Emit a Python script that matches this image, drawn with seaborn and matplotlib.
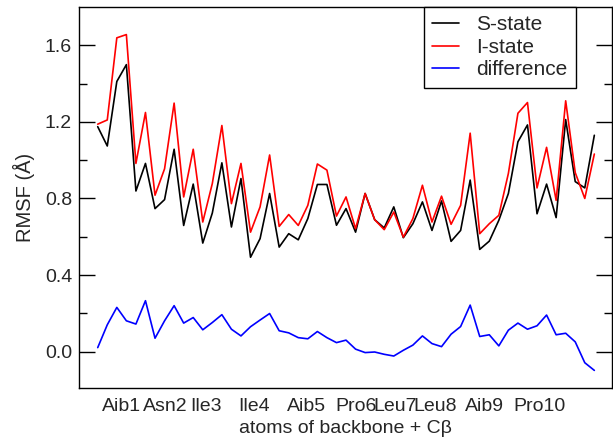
import numpy as np
import pandas as pd
import matplotlib
matplotlib.use("Agg")
import matplotlib.pyplot as plt
import seaborn as sns

# ---- data ----
s_state = [1.175, 1.074, 1.411, 1.499, 0.839, 0.983, 0.747, 0.794, 1.057, 0.659,
           0.875, 0.567, 0.724, 0.986, 0.651, 0.904, 0.493, 0.590, 0.826, 0.546,
           0.616, 0.584, 0.695, 0.873, 0.873, 0.660, 0.747, 0.624, 0.826, 0.689,
           0.646, 0.756, 0.595, 0.668, 0.782, 0.633, 0.787, 0.576, 0.633, 0.896,
           0.534, 0.577, 0.686, 0.826, 1.096, 1.184, 0.720, 0.875, 0.700, 1.212,
           0.888, 0.855, 1.130]
i_state = [1.188, 1.210, 1.639, 1.656, 0.983, 1.249, 0.817, 0.955, 1.298, 0.808,
           1.057, 0.677, 0.878, 1.181, 0.773, 0.983, 0.624, 0.756, 1.027, 0.654,
           0.716, 0.659, 0.764, 0.980, 0.948, 0.708, 0.808, 0.642, 0.826, 0.689,
           0.637, 0.729, 0.598, 0.695, 0.869, 0.677, 0.812, 0.665, 0.764, 1.141,
           0.616, 0.668, 0.712, 0.931, 1.245, 1.301, 0.855, 1.067, 0.790, 1.310,
           0.935, 0.800, 1.032]
difference = [0.021, 0.140, 0.231, 0.161, 0.144, 0.266, 0.070, 0.161, 0.240, 0.149,
              0.178, 0.114, 0.152, 0.193, 0.117, 0.082, 0.130, 0.165, 0.199, 0.109,
              0.098, 0.073, 0.067, 0.105, 0.073, 0.047, 0.060, 0.013, -0.005, -0.002,
              -0.014, -0.023, 0.007, 0.034, 0.082, 0.042, 0.026, 0.091, 0.131, 0.243,
              0.079, 0.088, 0.030, 0.112, 0.149, 0.117, 0.135, 0.191, 0.088, 0.096,
              0.051, -0.058, -0.098]
residues = ["Aib1", "Asn2", "Ile3", "Ile4", "Aib5", "Pro6", "Leu7", "Leu8", "Aib9", "Pro10"]
series_names = ["S-state", "I-state", "difference"]

atoms = np.arange(1, len(s_state) + 1)

df = pd.concat([
    pd.DataFrame({"atom": atoms, "rmsf": s_state, "series": series_names[0]}),
    pd.DataFrame({"atom": atoms, "rmsf": i_state, "series": series_names[1]}),
    pd.DataFrame({"atom": atoms, "rmsf": difference, "series": series_names[2]}),
], ignore_index=True)

sns.set_style("ticks")
plt.rcParams["font.family"] = ["Liberation Sans", "DejaVu Sans"]

fig = plt.figure(figsize=(6.13, 4.44), dpi=100)
ax = fig.add_axes([79 / 613, 1 - 388 / 444, (612 - 79) / 613, (388 - 7) / 444])

sns.lineplot(data=df, x="atom", y="rmsf", hue="series", hue_order=series_names,
             palette=["#000000", "#ff0000", "#0000ff"], linewidth=1.2, ax=ax,
             sort=False, estimator=None)

ax.set_xlim(-0.96, 54.85)
ax.set_ylim(-0.19, 1.80)

# residue label positions (atom-index centres of each residue)
res_pos = [3.5, 8.1, 12.3, 17.4, 22.9, 28.0, 32.1, 36.3, 41.5, 47.3]
ax.set_xticks(res_pos)
ax.set_xticklabels(residues, fontsize=14)
ax.tick_params(axis="x", length=0, pad=7.5)

ax.set_yticks([0.0, 0.4, 0.8, 1.2, 1.6])
ax.set_yticklabels(["0.0", "0.4", "0.8", "1.2", "1.6"], fontsize=14)
ax.set_yticks([0.2, 0.6, 1.0, 1.4], minor=True)
ax.tick_params(axis="y", which="major", direction="in", length=11.5, width=1.0,
               left=True, right=True, pad=5, color="black")
ax.tick_params(axis="y", which="minor", direction="in", length=6, width=1.0,
               left=True, right=True, color="black")

for sp in ax.spines.values():
    sp.set_visible(True)
    sp.set_linewidth(1.0)
    sp.set_color("black")

ax.set_xlabel("atoms of backbone + C\u03b2", fontsize=14, labelpad=3)
ax.set_ylabel("RMSF (\u00c5)", fontsize=14.5, labelpad=7)

leg = ax.legend(loc="upper right", bbox_to_anchor=((576 - 79) / 533, 1.0),
                borderaxespad=0, fontsize=15, frameon=True, fancybox=False,
                edgecolor="black", framealpha=1, handlelength=1.3,
                handletextpad=0.82, borderpad=0.4, labelspacing=0.17)
leg.get_frame().set_linewidth(1.0)
for line in leg.get_lines():
    line.set_linewidth(1.2)

fig.savefig("out.png", dpi=100)
